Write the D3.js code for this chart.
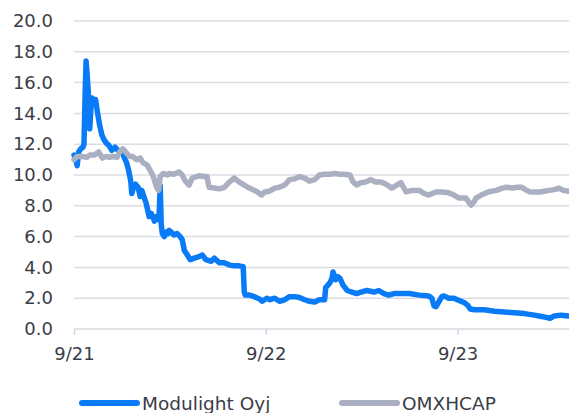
<!DOCTYPE html>
<html>
<head>
<meta charset="utf-8">
<script src="https://cdn.jsdelivr.net/npm/d3@7"></script>
<style>
  html, body { margin: 0; padding: 0; background: #fff; }
  svg { display: block; }
  text { font-family: "DejaVu Sans", sans-serif; fill: #3a3d47; }
</style>
</head>
<body>
<svg id="chart" width="569" height="413"></svg>
<script>
const seriesNames = ["Modulight Oyj", "OMXHCAP"];
const yTicks = [0, 2, 4, 6, 8, 10, 12, 14, 16, 18, 20];
const xTickDates = ["2021-09-01", "2022-09-01", "2023-09-01"];

const modulightDates = ["2021-09-01","2021-09-05","2021-09-07","2021-09-10","2021-09-14","2021-09-18","2021-09-20","2021-09-22","2021-09-24","2021-09-26","2021-09-28","2021-09-30","2021-10-01","2021-10-03","2021-10-05","2021-10-08","2021-10-12","2021-10-16","2021-10-20","2021-10-24","2021-10-28","2021-11-01","2021-11-07","2021-11-12","2021-11-18","2021-11-24","2021-11-29","2021-12-03","2021-12-06","2021-12-10","2021-12-14","2021-12-18","2021-12-20","2021-12-24","2021-12-27","2022-01-01","2022-01-05","2022-01-08","2022-01-12","2022-01-16","2022-01-20","2022-01-22","2022-01-26","2022-01-30","2022-02-01","2022-02-05","2022-02-09","2022-02-10","2022-02-12","2022-02-14","2022-02-16","2022-02-20","2022-02-24","2022-02-27","2022-03-01","2022-03-05","2022-03-10","2022-03-16","2022-03-22","2022-03-26","2022-03-30","2022-04-05","2022-04-10","2022-04-18","2022-04-27","2022-05-03","2022-05-10","2022-05-20","2022-05-26","2022-05-29","2022-06-05","2022-06-14","2022-06-24","2022-07-03","2022-07-12","2022-07-20","2022-07-22","2022-07-24","2022-08-01","2022-08-10","2022-08-20","2022-08-25","2022-09-03","2022-09-08","2022-09-18","2022-09-27","2022-10-07","2022-10-16","2022-10-26","2022-11-04","2022-11-14","2022-11-23","2022-12-03","2022-12-12","2022-12-22","2022-12-24","2022-12-27","2023-01-01","2023-01-05","2023-01-07","2023-01-09","2023-01-12","2023-01-16","2023-01-20","2023-01-26","2023-02-03","2023-02-12","2023-02-21","2023-03-01","2023-03-12","2023-03-26","2023-04-04","2023-04-14","2023-04-23","2023-05-03","2023-05-12","2023-06-01","2023-06-20","2023-07-08","2023-07-14","2023-07-18","2023-07-22","2023-07-27","2023-08-02","2023-08-06","2023-08-15","2023-08-25","2023-09-04","2023-09-14","2023-09-20","2023-09-25","2023-10-03","2023-10-22","2023-11-10","2023-11-29","2023-12-18","2024-01-06","2024-01-25","2024-02-10","2024-02-24","2024-03-03","2024-03-16","2024-03-30"];
const modulightValues = [11.3,10.9,10.6,11.5,11.7,11.8,12.0,15.0,17.4,16.5,15.5,14.0,13.0,14.2,15.0,14.9,14.9,14.0,13.2,12.6,12.3,12.1,11.9,11.6,11.8,11.6,11.5,11.4,11.1,10.8,10.3,9.6,8.8,9.3,9.4,9.2,8.6,9.0,8.6,8.2,7.6,7.3,7.5,7.2,7.0,7.3,7.1,7.4,9.3,6.8,6.2,6.0,6.3,6.2,6.4,6.3,6.1,6.2,6.0,5.8,5.1,4.8,4.5,4.6,4.7,4.8,4.5,4.4,4.6,4.5,4.3,4.3,4.15,4.1,4.1,4.05,2.4,2.2,2.2,2.1,1.95,1.8,2.0,1.9,2.0,1.8,1.9,2.1,2.1,2.05,1.9,1.8,1.75,1.9,1.9,2.7,2.8,3.0,3.3,3.7,3.5,3.2,3.4,3.3,2.85,2.5,2.4,2.3,2.4,2.5,2.4,2.5,2.3,2.2,2.3,2.3,2.3,2.2,2.15,2.0,1.5,1.45,1.75,2.1,2.15,2.0,2.0,1.85,1.7,1.55,1.3,1.25,1.25,1.15,1.1,1.05,1.0,0.9,0.8,0.7,0.85,0.9,0.85];

const omxDates = ["2021-09-01","2021-09-07","2021-09-16","2021-09-26","2021-10-01","2021-10-10","2021-10-18","2021-10-25","2021-11-01","2021-11-08","2021-11-14","2021-11-22","2021-11-27","2021-12-03","2021-12-08","2021-12-16","2021-12-22","2021-12-29","2022-01-05","2022-01-10","2022-01-18","2022-01-24","2022-01-30","2022-02-05","2022-02-09","2022-02-12","2022-02-18","2022-02-26","2022-03-01","2022-03-10","2022-03-20","2022-03-26","2022-04-01","2022-04-08","2022-04-14","2022-04-22","2022-04-27","2022-05-07","2022-05-12","2022-05-16","2022-05-26","2022-06-05","2022-06-14","2022-06-24","2022-07-03","2022-07-12","2022-07-22","2022-08-01","2022-08-10","2022-08-16","2022-08-24","2022-08-30","2022-09-08","2022-09-18","2022-09-27","2022-10-07","2022-10-16","2022-10-26","2022-11-04","2022-11-14","2022-11-23","2022-12-03","2022-12-12","2022-12-22","2023-01-01","2023-01-10","2023-01-20","2023-01-29","2023-02-08","2023-02-14","2023-02-21","2023-03-01","2023-03-10","2023-03-20","2023-03-29","2023-04-08","2023-04-18","2023-04-29","2023-05-06","2023-05-16","2023-05-26","2023-06-06","2023-06-20","2023-06-29","2023-07-08","2023-07-22","2023-08-02","2023-08-15","2023-08-25","2023-09-04","2023-09-17","2023-09-23","2023-09-27","2023-10-03","2023-10-06","2023-10-16","2023-10-26","2023-11-04","2023-11-14","2023-11-25","2023-12-03","2023-12-14","2023-12-24","2024-01-01","2024-01-08","2024-01-16","2024-01-25","2024-02-04","2024-02-13","2024-02-22","2024-03-03","2024-03-12","2024-03-20","2024-03-30"];
const omxValues = [11.0,11.2,11.2,11.15,11.3,11.3,11.5,11.1,11.2,11.15,11.2,11.15,11.5,11.7,11.5,11.2,11.2,11.0,11.1,10.8,10.65,10.3,9.9,9.2,9.0,9.9,10.1,10.0,10.1,10.05,10.2,10.0,9.6,9.35,9.8,9.9,9.95,9.9,9.9,9.2,9.15,9.1,9.2,9.55,9.8,9.55,9.35,9.15,9.0,8.9,8.7,8.9,8.95,9.15,9.2,9.35,9.7,9.75,9.9,9.8,9.6,9.7,10.0,10.05,10.05,10.1,10.05,10.05,10.0,9.55,9.35,9.5,9.55,9.7,9.55,9.55,9.4,9.15,9.3,9.5,8.9,9.0,9.0,8.8,8.7,8.9,8.9,8.85,8.7,8.5,8.5,8.2,8.05,8.3,8.5,8.7,8.85,8.95,9.0,9.15,9.2,9.15,9.2,9.2,9.05,8.9,8.9,8.9,8.95,9.0,9.05,9.15,9.0,8.95];

const colors = ["#0a7bf7", "#aab0c1"];

const parse = d3.timeParse("%Y-%m-%d");
const modulight = modulightDates.map((d, i) => ({ date: parse(d), value: modulightValues[i] }));
const omx = omxDates.map((d, i) => ({ date: parse(d), value: omxValues[i] }));

const svg = d3.select("#chart");
const mLeft = 74, mRight = 569, mTop = 21, mBottom = 329;

const x = d3.scaleTime()
  .domain([parse("2021-09-01"), parse("2024-03-31")])
  .range([mLeft, mRight]);
const y = d3.scaleLinear().domain([0, 20]).range([mBottom, mTop]);

// gridlines
svg.append("g").selectAll("line")
  .data(yTicks.filter(t => t > 0))
  .join("line")
  .attr("x1", mLeft).attr("x2", mRight)
  .attr("y1", d => y(d)).attr("y2", d => y(d))
  .attr("stroke", "#dcdde4").attr("stroke-width", 1.5);

// y axis labels
const yAxis = d3.axisLeft(y).tickValues(yTicks).tickFormat(d3.format(".1f")).tickSize(0).tickPadding(21);
const gy = svg.append("g").attr("transform", `translate(${mLeft},0)`).call(yAxis);
gy.select(".domain").remove();
gy.selectAll("text").style("font-size", "18px").attr("fill", "#3a3d47").style("font-family", '"DejaVu Sans", sans-serif');

// x axis
const xAxis = d3.axisBottom(x).tickValues(xTickDates.map(parse)).tickFormat(d3.timeFormat("%-m/%y")).tickSize(6).tickPadding(12);
const gx = svg.append("g").attr("transform", `translate(0,${mBottom})`).call(xAxis);
gx.select(".domain").attr("stroke", "#d6d8df").attr("stroke-width", 1.5).attr("d", `M${mLeft},0H${mRight}`);
gx.selectAll(".tick line").attr("stroke", "#d6d8df").attr("stroke-width", 1.5);
gx.selectAll("text").style("font-size", "18px").attr("fill", "#3a3d47").style("font-family", '"DejaVu Sans", sans-serif');

const line = d3.line().x(d => x(d.date)).y(d => y(d.value));

svg.append("path").datum(modulight)
  .attr("d", line).attr("fill", "none")
  .attr("stroke", colors[0]).attr("stroke-width", 5.5)
  .attr("stroke-linejoin", "round").attr("stroke-linecap", "round");

svg.append("path").datum(omx)
  .attr("d", line).attr("fill", "none")
  .attr("stroke", colors[1]).attr("stroke-width", 5.5)
  .attr("stroke-linejoin", "round").attr("stroke-linecap", "round");

// legend
const legendItems = [
  { name: seriesNames[0], color: colors[0], x0: 82 },
  { name: seriesNames[1], color: colors[1], x0: 342 }
];
const lg = svg.append("g");
legendItems.forEach(it => {
  lg.append("line")
    .attr("x1", it.x0).attr("x2", it.x0 + 55)
    .attr("y1", 403).attr("y2", 403)
    .attr("stroke", it.color).attr("stroke-width", 6).attr("stroke-linecap", "round");
  lg.append("text")
    .attr("x", it.x0 + 60).attr("y", 409.5)
    .style("font-size", "18.5px")
    .text(it.name);
});
</script>
</body>
</html>
